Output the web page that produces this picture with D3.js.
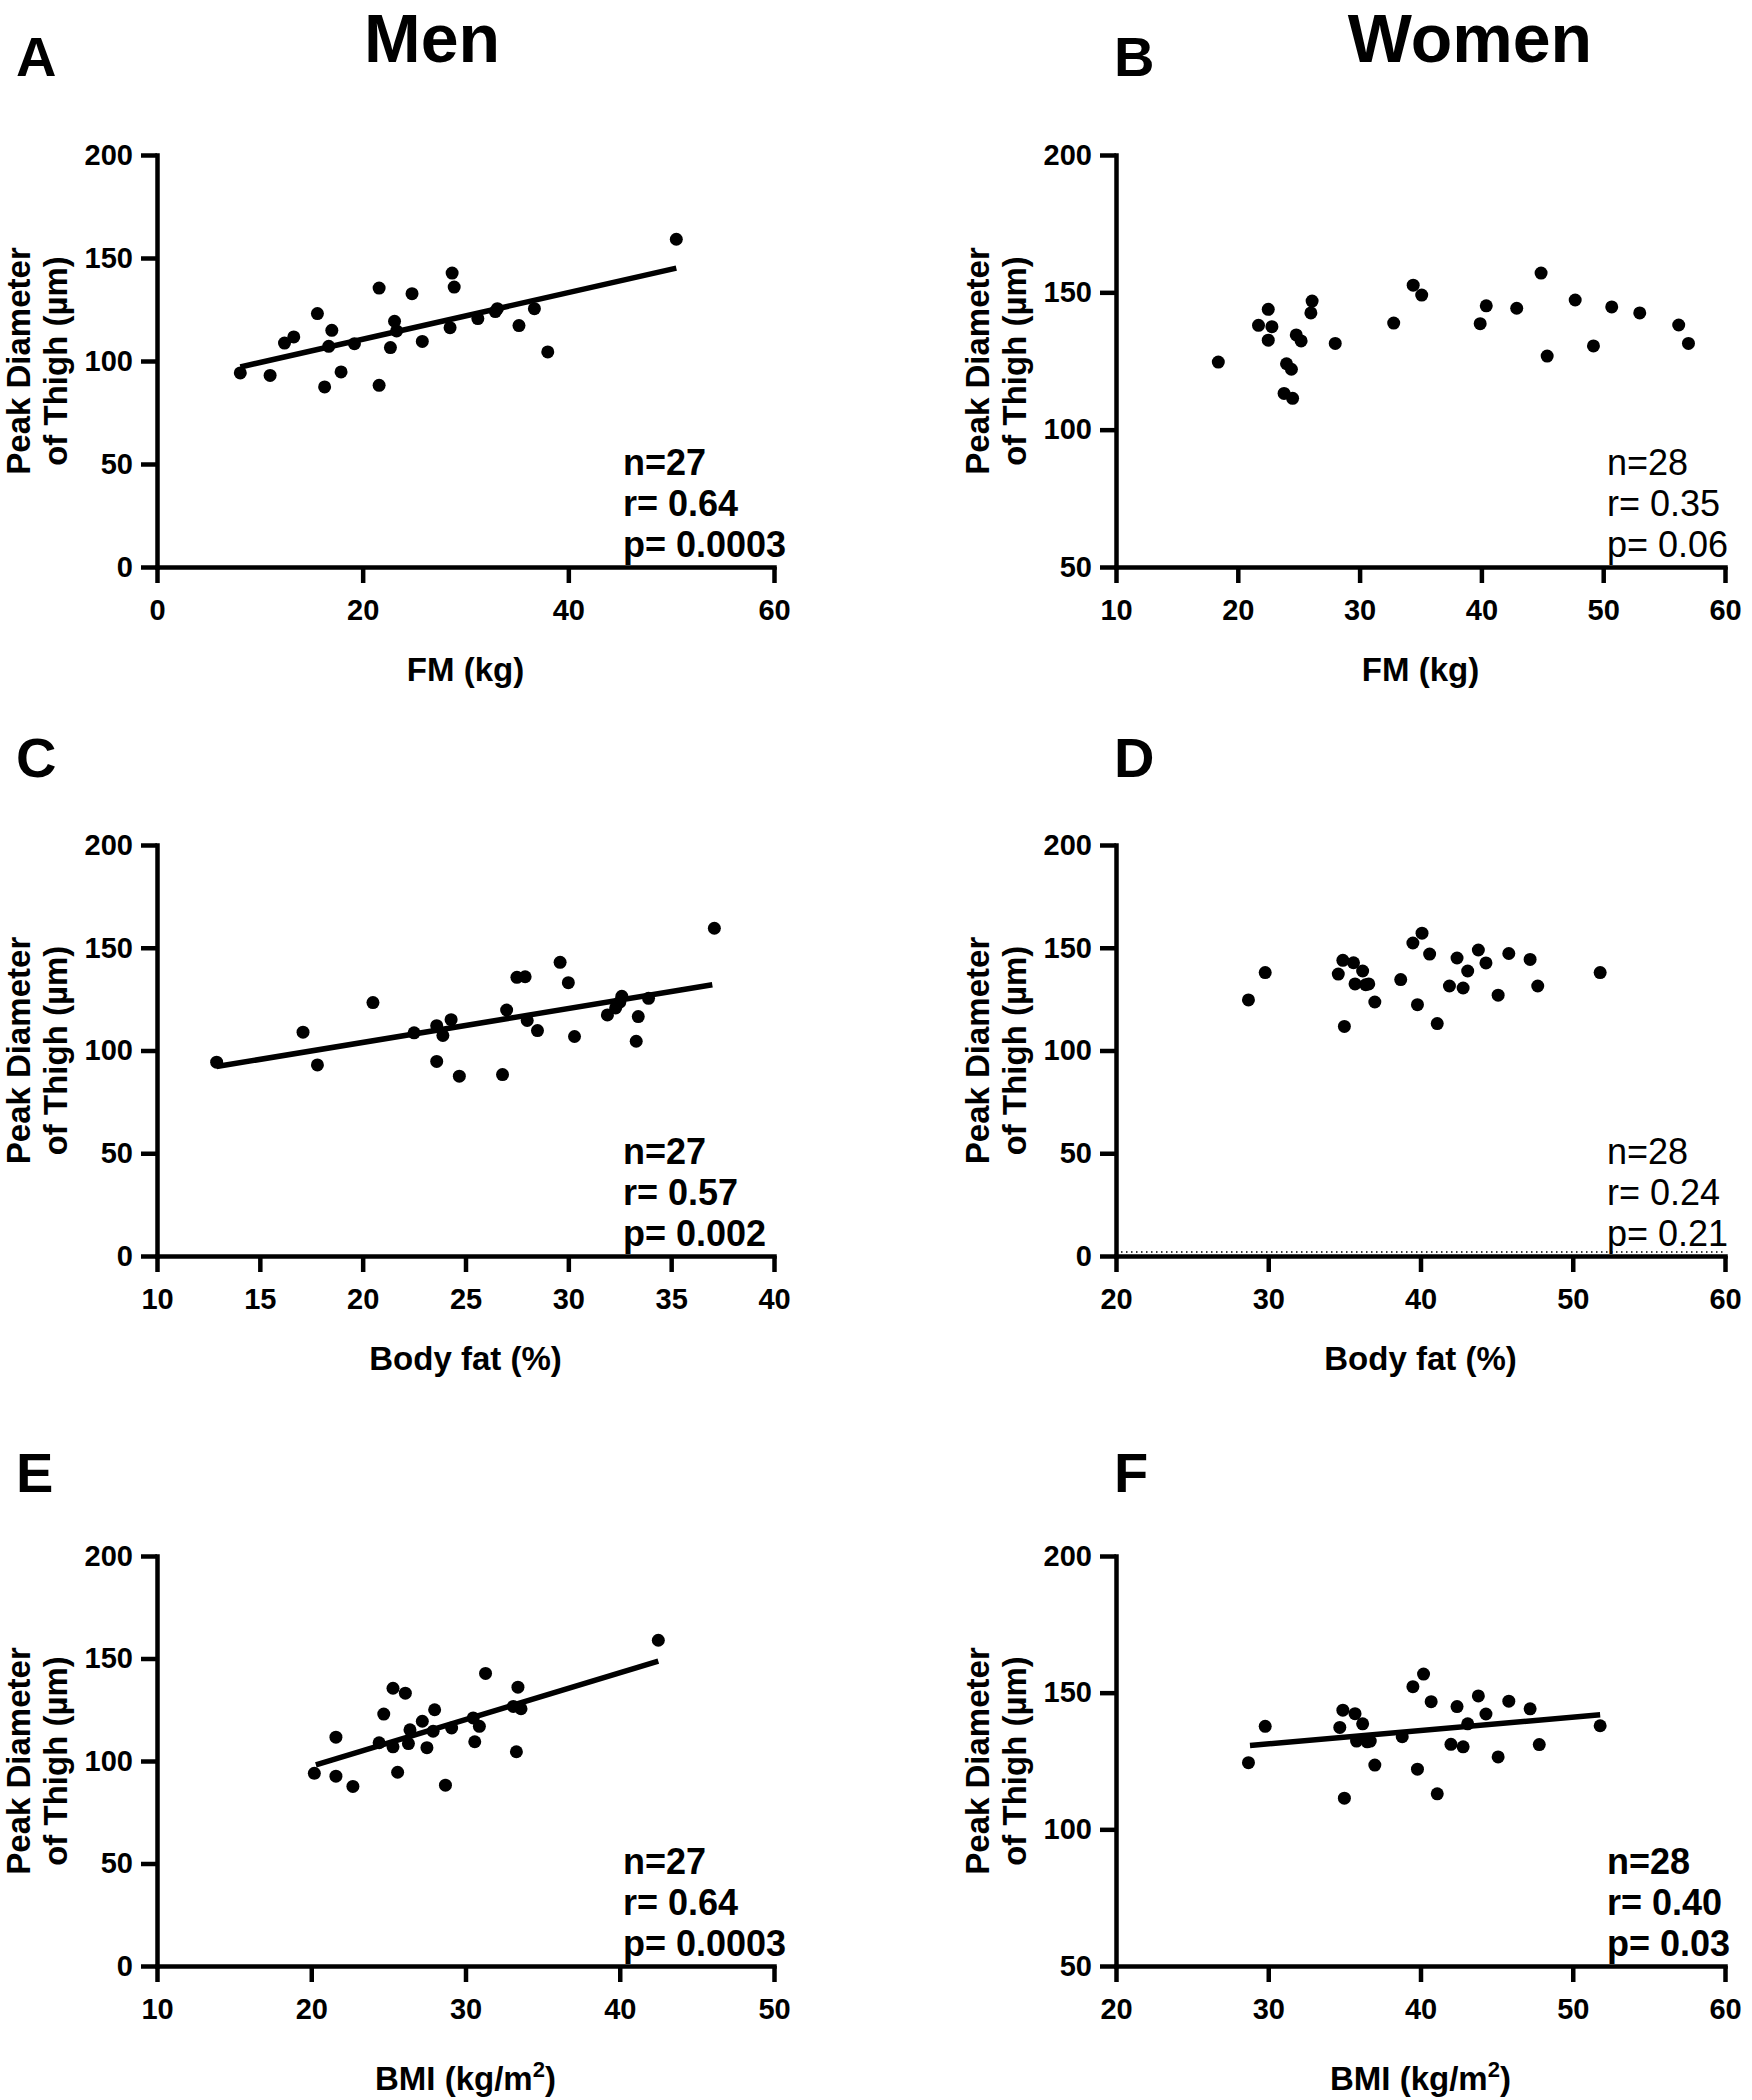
<!DOCTYPE html>
<html><head><meta charset="utf-8">
<script src="https://cdn.jsdelivr.net/npm/d3@7"></script>
<style>
body{margin:0;background:#fff}
svg{display:block}
text{font-family:"Liberation Sans",Arial,Helvetica,sans-serif;fill:#000}
</style>
</head><body>
<svg id="chart" width="1752" height="2100"></svg>
<script>
// ---------------- DATA ----------------
const columnTitles = ["Men", "Women"];
const panelLetters = ["A", "B", "C", "D", "E", "F"];
const yTitleLines = ["Peak Diameter", "of Thigh (\u00b5m)"];
const xLabelFM = "FM (kg)";
const xLabelFat = "Body fat (%)";
const xLabelBMI = "BMI (kg/m";   // followed by superscript 2 and ")"

// Panel A: Men, FM (kg)
const xA = [8.1, 11.0, 12.4, 13.3, 15.6, 16.3, 16.7, 17.0, 17.9, 19.2, 21.6, 21.6, 22.7, 23.1, 23.3, 24.8, 25.8, 28.5, 28.7, 28.9, 31.2, 33.1, 32.9, 35.2, 36.7, 38.0, 50.5];
const yA = [94.2, 93.0, 108.7, 111.7, 123.0, 87.4, 107.1, 114.9, 94.7, 108.4, 135.4, 88.2, 106.5, 119.3, 114.6, 132.7, 109.5, 116.2, 142.7, 135.9, 120.6, 125.4, 124.0, 117.2, 125.4, 104.4, 159.1];
const fitXA = [8.1, 50.5];
const fitYA = [97.1, 145.1];
const statsA = ["n=27", "r= 0.64", "p= 0.0003"];

// Panel B: Women, FM (kg)
const xB = [18.4, 21.7, 22.5, 22.8, 22.5, 24.0, 24.4, 23.8, 24.5, 24.8, 25.2, 26.0, 26.1, 28.0, 32.8, 34.4, 35.1, 39.9, 40.4, 42.9, 44.9, 45.4, 47.7, 49.2, 50.7, 53.0, 56.2, 57.0];
const yB = [124.6, 138.0, 143.8, 137.5, 132.6, 124.0, 122.0, 113.2, 111.4, 134.5, 132.3, 142.5, 146.8, 131.4, 138.8, 152.6, 149.0, 138.6, 145.1, 144.2, 157.0, 126.8, 147.2, 130.5, 144.7, 142.5, 138.1, 131.4];
const statsB = ["n=28", "r= 0.35", "p= 0.06"];

// Panel C: Men, Body fat (%)
const xC = [12.9, 17.1, 17.8, 20.5, 22.5, 23.6, 23.9, 24.3, 23.6, 24.7, 26.8, 27.0, 27.5, 27.9, 28.0, 28.5, 29.6, 30.0, 30.3, 31.9, 32.3, 32.6, 32.5, 33.4, 33.3, 33.9, 37.1];
const yC = [94.3, 108.9, 93.0, 123.3, 108.6, 112.1, 107.3, 115.0, 94.7, 87.5, 88.3, 119.7, 135.6, 135.9, 114.6, 109.7, 142.9, 133.0, 106.8, 117.3, 120.7, 126.4, 123.5, 116.5, 104.5, 125.4, 159.5];
const fitXC = [12.9, 37.0];
const fitYC = [92.2, 132.0];
const statsC = ["n=27", "r= 0.57", "p= 0.002"];

// Panel D: Women, Body fat (%)
const xD = [28.7, 29.8, 34.6, 34.9, 35.6, 36.2, 35.7, 36.6, 36.4, 37.0, 35.0, 38.7, 39.5, 40.1, 40.6, 39.8, 41.1, 41.9, 42.4, 42.8, 43.1, 43.8, 44.3, 45.1, 45.8, 47.2, 47.7, 51.8];
const yD = [124.6, 137.9, 137.2, 143.9, 142.7, 138.7, 132.4, 132.4, 132.0, 123.6, 111.7, 134.5, 152.3, 157.1, 146.9, 122.3, 113.1, 131.4, 145.0, 130.4, 138.7, 148.9, 142.6, 126.9, 147.2, 144.3, 131.4, 137.9];
const statsD = ["n=28", "r= 0.24", "p= 0.21"];

// Panel E: Men, BMI (kg/m2)
const xE = [20.2, 21.6, 21.6, 22.7, 24.4, 24.7, 25.3, 25.3, 25.6, 26.1, 26.4, 26.3, 27.2, 27.5, 27.9, 28.0, 28.7, 29.1, 30.5, 30.9, 30.6, 31.3, 33.1, 33.6, 33.4, 33.3, 42.5];
const yE = [94.0, 111.6, 92.6, 87.6, 108.9, 122.9, 135.5, 106.9, 94.5, 133.1, 115.2, 108.5, 119.4, 106.5, 114.5, 125.0, 88.2, 116.1, 121.0, 116.9, 109.4, 142.7, 126.6, 125.5, 136.0, 104.5, 158.9];
const fitXE = [20.3, 42.5];
const fitYE = [98.1, 148.7];
const statsE = ["n=27", "r= 0.64", "p= 0.0003"];

// Panel F: Women, BMI (kg/m2)
const xF = [28.7, 29.8, 34.7, 34.9, 35.7, 36.2, 35.8, 36.7, 36.5, 37.0, 35.0, 38.8, 39.5, 40.2, 40.7, 39.8, 41.1, 42.0, 42.4, 42.8, 43.1, 43.8, 44.3, 45.1, 45.8, 47.2, 47.8, 51.8];
const yF = [124.4, 137.7, 137.3, 143.6, 142.3, 138.6, 132.3, 132.3, 132.0, 123.5, 111.4, 133.9, 152.2, 156.8, 146.7, 122.0, 113.0, 131.1, 144.9, 130.2, 138.6, 148.8, 142.2, 126.5, 146.9, 144.1, 131.0, 137.9];
const fitXF = [28.8, 51.8];
const fitYF = [130.7, 141.9];
const statsF = ["n=28", "r= 0.40", "p= 0.03"];

// Tick values
const xTicksA = [0, 20, 40, 60];
const xTicksB = [10, 20, 30, 40, 50, 60];
const xTicksC = [10, 15, 20, 25, 30, 35, 40];
const xTicksD = [20, 30, 40, 50, 60];
const xTicksE = [10, 20, 30, 40, 50];
const xTicksF = [20, 30, 40, 50, 60];
const yTicks0 = [0, 50, 100, 150, 200];
const yTicks50 = [50, 100, 150, 200];

// ---------------- LAYOUT ----------------
const panels = [
  {letter: panelLetters[0], xs: xA, ys: yA, fitX: fitXA, fitY: fitYA, xTicks: xTicksA, yTicks: yTicks0, xLabel: xLabelFM, stats: statsA, bold: true,
   L: 157, R: 774, T: 155, B: 567, letterX: 16, letterY: 76},
  {letter: panelLetters[1], xs: xB, ys: yB, fitX: null, fitY: null, xTicks: xTicksB, yTicks: yTicks50, xLabel: xLabelFM, stats: statsB, bold: false,
   L: 1116, R: 1725, T: 155, B: 567, letterX: 1114, letterY: 76},
  {letter: panelLetters[2], xs: xC, ys: yC, fitX: fitXC, fitY: fitYC, xTicks: xTicksC, yTicks: yTicks0, xLabel: xLabelFat, stats: statsC, bold: true,
   L: 157, R: 774, T: 845, B: 1256, letterX: 16, letterY: 777},
  {letter: panelLetters[3], xs: xD, ys: yD, fitX: null, fitY: null, xTicks: xTicksD, yTicks: yTicks0, xLabel: xLabelFat, stats: statsD, bold: false,
   L: 1116, R: 1725, T: 845, B: 1256, letterX: 1114, letterY: 777, zeroLine: true},
  {letter: panelLetters[4], xs: xE, ys: yE, fitX: fitXE, fitY: fitYE, xTicks: xTicksE, yTicks: yTicks0, xLabel: xLabelBMI, sup: true, stats: statsE, bold: true,
   L: 157, R: 774, T: 1556, B: 1966, letterX: 16, letterY: 1492},
  {letter: panelLetters[5], xs: xF, ys: yF, fitX: fitXF, fitY: fitYF, xTicks: xTicksF, yTicks: yTicks50, xLabel: xLabelBMI, sup: true, stats: statsF, bold: true,
   L: 1116, R: 1725, T: 1556, B: 1966, letterX: 1114, letterY: 1492}
];

const svg = d3.select("#chart");
svg.append("rect").attr("width", 1752).attr("height", 2100).attr("fill", "#fff");

// Column titles
svg.append("text").attr("x", 432).attr("y", 62).attr("text-anchor", "middle")
  .attr("font-size", 68).attr("font-weight", "bold").text(columnTitles[0]);
svg.append("text").attr("x", 1470).attr("y", 62).attr("text-anchor", "middle")
  .attr("font-size", 68).attr("font-weight", "bold").text(columnTitles[1]);

panels.forEach(p => {
  const g = svg.append("g");
  const x = d3.scaleLinear().domain([p.xTicks[0], p.xTicks[p.xTicks.length - 1]]).range([p.L, p.R]);
  const y = d3.scaleLinear().domain([p.yTicks[0], p.yTicks[p.yTicks.length - 1]]).range([p.B, p.T]);

  // panel letter
  g.append("text").attr("x", p.letterX).attr("y", p.letterY)
    .attr("font-size", 56).attr("font-weight", "bold").text(p.letter);

  // axes
  const xAxis = d3.axisBottom(x).tickValues(p.xTicks).tickSize(16).tickSizeOuter(0).tickPadding(16).tickFormat(d3.format("d"));
  const yAxis = d3.axisLeft(y).tickValues(p.yTicks).tickSize(16).tickSizeOuter(0).tickPadding(8).tickFormat(d3.format("d"));
  const gx = g.append("g").attr("transform", `translate(0,${p.B})`).call(xAxis);
  const gy = g.append("g").attr("transform", `translate(${p.L},0)`).call(yAxis);
  [gx, gy].forEach(a => {
    a.select(".domain").attr("stroke", "#000").attr("stroke-width", 4.5).attr("stroke-linecap", "square");
    a.selectAll(".tick line").attr("stroke", "#000").attr("stroke-width", 4.5);
    a.selectAll(".tick text").attr("font-size", 29).attr("font-weight", "bold")
      .attr("font-family", "'Liberation Sans',Arial,sans-serif").attr("fill", "#000");
  });

  // dotted zero line (panel D)
  if (p.zeroLine) {
    g.append("line").attr("x1", x(p.xTicks[0])).attr("x2", x(p.xTicks[p.xTicks.length - 1]))
      .attr("y1", y(0) - 4).attr("y2", y(0) - 4)
      .attr("stroke", "#000").attr("stroke-width", 1.5).attr("stroke-dasharray", "1.5,3.5");
  }

  // y title (two lines, rotated)
  const cy = (p.T + p.B) / 2;
  [127, 90].forEach((off, i) => {
    g.append("text").attr("transform", `translate(${p.L - off},${cy}) rotate(-90)`)
      .attr("text-anchor", "middle").attr("font-size", 33).attr("font-weight", "bold")
      .text(yTitleLines[i]);
  });

  // x title
  const xt = g.append("text").attr("x", (p.L + p.R) / 2).attr("y", p.B + (p.sup ? 124 : 114))
    .attr("text-anchor", "middle").attr("font-size", 33).attr("font-weight", "bold");
  xt.append("tspan").text(p.xLabel);
  if (p.sup) {
    xt.append("tspan").attr("dy", -13).attr("font-size", 22).text("2");
    xt.append("tspan").attr("dy", 13).text(")");
  }

  // fit line
  if (p.fitX) {
    g.append("line")
      .attr("x1", x(p.fitX[0])).attr("y1", y(p.fitY[0]))
      .attr("x2", x(p.fitX[1])).attr("y2", y(p.fitY[1]))
      .attr("stroke", "#000").attr("stroke-width", 5.5);
  }

  // points
  g.append("g").selectAll("circle").data(p.xs.map((v, i) => [v, p.ys[i]])).join("circle")
    .attr("cx", d => x(d[0])).attr("cy", d => y(d[1])).attr("r", 6.5).attr("fill", "#000");

  // stats text
  const sx = p.L < 500 ? 623 : 1607;
  [92, 51, 10].forEach((off, i) => {
    g.append("text").attr("x", sx).attr("y", p.B - off)
      .attr("font-size", 36).attr("font-weight", p.bold ? "bold" : "normal")
      .text(p.stats[i]);
  });
});
</script>
</body></html>
